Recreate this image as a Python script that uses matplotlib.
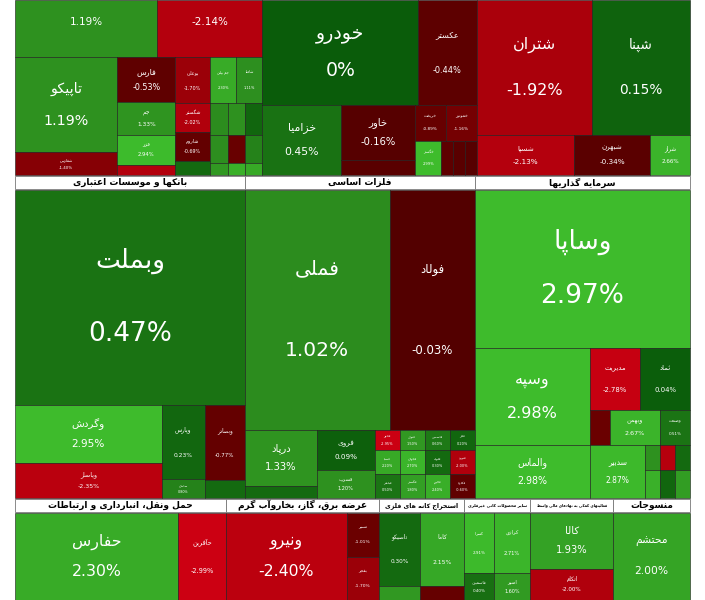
import matplotlib
matplotlib.use("Agg")
import matplotlib.pyplot as plt
from matplotlib.patches import Rectangle
import numpy as np

# ---------------- data ----------------
names = ["_t1", "_t2", "تاپیکو", "شفارس", "فارس", "جم", "فزر", "شغدیر", "بوعلی", "شگستر", "شاروم", "شپدیس",
         "جم پیلن", "شاملا", "شیراز", "شکلر", "شصدف", "شخارک", "شفن", "شبندر", "شنفت", "شسینا", "شلعاب",
         "خودرو", "عکستر", "خزامیا", "خاور", "مهن", "خریخت", "خموتور", "خگستر", "خکاوه", "خمحور", "خفنر",
         "شتران", "شپنا", "شسپا", "شبهرن", "شراز",
         "وبملت", "وگردش", "وپاسار", "وپارس", "سامان", "وبصادر", "وتجارت",
         "فملی", "فولاد", "درپاد", "ذوب", "فروی", "فسرب", "فخوز", "فنوال", "فاسمین", "فجر", "فسپا", "فجهان",
         "فلوله", "فنورد", "فباهنر", "فگستر", "فالوم", "فکاوه",
         "وساپا", "وسپه", "والماس", "مدیریت", "ثماد", "وخارزم", "وبهمن", "وصنعت", "سدبیر", "وسکاب", "وامید",
         "ونیکی", "وغدیر", "وبوعلی", "ورنا",
         "حفارس", "حآفرین", "ونیرو", "تسیر", "بفجر", "تاصیکو", "کچاد", "کاما", "کروی",
         "کسرا", "فاسمین ", "کرازی", "اسیر", "کالا", "اتکام", "محتشم"]
pcts = [1.19, -2.14, 1.19, -1.4, -0.53, 1.33, 2.94, -2.1, -1.7, -2.02, -0.69, 0.3,
        2.3, 1.11, 1.0, 1.2, 0.2, 1.1, -0.9, 0.8, 1.5, 2.5, 2.2,
        0.0, -0.44, 0.45, -0.16, -0.3, -0.89, -1.16, 2.99, -0.5, -0.3, -0.2,
        -1.92, 0.15, -2.13, -0.34, 2.66,
        0.47, 2.95, -2.35, 0.23, 0.8, -0.77, 0.3,
        1.02, -0.03, 1.33, 0.3, 0.09, 1.2, -2.95, 1.5, 0.6, 0.2, 2.2, 2.7,
        0.3, -2.0, 0.5, 1.8, 2.4, -0.6,
        2.97, 2.98, 2.98, -2.78, 0.04, -1.0, 2.67, 0.51, 2.87, 1.2, -2.2,
        0.3, 2.5, 0.2, 1.7,
        2.3, -2.99, -2.4, -1.01, -1.7, 0.3, 1.5, 2.15, -0.8,
        2.91, 0.4, 2.71, 1.6, 1.93, -2.0, 2.0]
weights = [81, 60, 97, 23, 26, 19, 17, 6, 16, 10, 10, 5,
           12, 12, 5.4, 5.4, 5.4, 5, 5, 5, 2, 2, 2,
           162, 61, 55, 41, 11, 11, 11, 9, 4, 4, 4,
           155, 132, 39, 30, 16,
           495, 85, 51, 32, 8, 30, 7,
           348, 204, 40, 9, 23, 16, 5, 5, 5, 5, 6, 6,
           6, 6, 6, 6, 6, 6,
           340, 112, 61, 31, 31, 7, 17.5, 10.5, 29, 3.75, 3.75,
           3.75, 4.2, 4.2, 4.2,
           142, 42, 105, 14, 14, 30, 6, 32, 6,
           18, 8, 22, 10, 46, 26, 67]

top_groups = [None, None, None]
mid_titles = ["بانکها و موسسات اعتباری", "فلزات اساسی", "سرمایه گذاریها"]
bot_titles = ["حمل ونقل، انبارداری و ارتباطات", "عرضه برق، گاز، بخاروآب گرم", "استخراج کانه های فلزی",
              "سایر محصولات کانی غیرفلزی", "فعالیتهای کمکی به نهادهای مالی واسط", "منسوجات"]

# ---------------- tree structure (names only) ----------------
top_tree = [
    ('v', [('h', ["_t1", "_t2"]),
           ('h', [('v', ["تاپیکو", "شفارس"]),
                  ('v', ["فارس", "جم", "فزر", "شغدیر"]),
                  ('v', ["بوعلی", "شگستر", "شاروم", "شپدیس"]),
                  ('v', [('h', ["جم پیلن", "شاملا"]), ('h', ["شیراز", "شکلر", "شصدف"]),
                         ('h', ["شخارک", "شفن", "شبندر"]), ('h', ["شنفت", "شسینا", "شلعاب"])])])]),
    ('v', [('h', ["خودرو", "عکستر"]),
           ('h', ["خزامیا", ('v', ["خاور", "مهن"]),
                  ('v', [('h', ["خریخت", "خموتور"]), ('h', ["خگستر", "خکاوه", "خمحور", "خفنر"])])])]),
    ('v', [('h', ["شتران", "شپنا"]), ('h', ["شسپا", "شبهرن", "شراز"])]),
]
mid_tree = [
    ('v', ["وبملت", ('h', [('v', ["وگردش", "وپاسار"]), ('v', ["وپارس", "سامان"]), ('v', ["وبصادر", "وتجارت"])])]),
    ('v', [('h', ["فملی", "فولاد"]),
           ('h', [('v', ["درپاد", "ذوب"]), ('v', ["فروی", "فسرب"]),
                  ('v', [('h', ["فخوز", "فنوال", "فاسمین", "فجر"]), ('h', ["فسپا", "فجهان", "فلوله", "فنورد"]),
                         ('h', ["فباهنر", "فگستر", "فالوم", "فکاوه"])])])]),
    ('v', ["وساپا", ('h', [('v', ["وسپه", "والماس"]),
                          ('v', [('h', ["مدیریت", "ثماد"]), ('h', ["وخارزم", "وبهمن", "وصنعت"]),
                                 ('h', ["سدبیر", ('v', [('h', ["وسکاب", "وامید", "ونیکی"]),
                                                       ('h', ["وغدیر", "وبوعلی", "ورنا"])])])])])]),
]
bot_tree = [
    ('h', ["حفارس", "حآفرین"]),
    ('h', ["ونیرو", ('v', ["تسیر", "بفجر"])]),
    ('h', [('v', ["تاصیکو", "کچاد"]), ('v', ["کاما", "کروی"])]),
    ('h', [('v', ["کسرا", "فاسمین "]), ('v', ["کرازی", "اسیر"])]),
    ('v', ["کالا", "اتکام"]),
    ('v', ["محتشم"]),
]

# ---------------- Persian shaping ----------------
F = {
 'ا': (0xFE8D, 0xFE8E, None, None), 'آ': (0xFE81, 0xFE82, None, None),
 'ب': (0xFE8F, 0xFE90, 0xFE91, 0xFE92), 'پ': (0xFB56, 0xFB57, 0xFB58, 0xFB59),
 'ت': (0xFE95, 0xFE96, 0xFE97, 0xFE98), 'ث': (0xFE99, 0xFE9A, 0xFE9B, 0xFE9C),
 'ج': (0xFE9D, 0xFE9E, 0xFE9F, 0xFEA0), 'چ': (0xFB7A, 0xFB7B, 0xFB7C, 0xFB7D),
 'ح': (0xFEA1, 0xFEA2, 0xFEA3, 0xFEA4), 'خ': (0xFEA5, 0xFEA6, 0xFEA7, 0xFEA8),
 'د': (0xFEA9, 0xFEAA, None, None), 'ذ': (0xFEAB, 0xFEAC, None, None),
 'ر': (0xFEAD, 0xFEAE, None, None), 'ز': (0xFEAF, 0xFEB0, None, None),
 'ژ': (0xFB8A, 0xFB8B, None, None),
 'س': (0xFEB1, 0xFEB2, 0xFEB3, 0xFEB4), 'ش': (0xFEB5, 0xFEB6, 0xFEB7, 0xFEB8),
 'ص': (0xFEB9, 0xFEBA, 0xFEBB, 0xFEBC), 'ض': (0xFEBD, 0xFEBE, 0xFEBF, 0xFEC0),
 'ط': (0xFEC1, 0xFEC2, 0xFEC3, 0xFEC4), 'ظ': (0xFEC5, 0xFEC6, 0xFEC7, 0xFEC8),
 'ع': (0xFEC9, 0xFECA, 0xFECB, 0xFECC), 'غ': (0xFECD, 0xFECE, 0xFECF, 0xFED0),
 'ف': (0xFED1, 0xFED2, 0xFED3, 0xFED4), 'ق': (0xFED5, 0xFED6, 0xFED7, 0xFED8),
 'ک': (0xFB8E, 0xFB8F, 0xFB90, 0xFB91), 'گ': (0xFB92, 0xFB93, 0xFB94, 0xFB95),
 'ل': (0xFEDD, 0xFEDE, 0xFEDF, 0xFEE0), 'م': (0xFEE1, 0xFEE2, 0xFEE3, 0xFEE4),
 'ن': (0xFEE5, 0xFEE6, 0xFEE7, 0xFEE8), 'و': (0xFEED, 0xFEEE, None, None),
 'ه': (0xFEE9, 0xFEEA, 0xFEEB, 0xFEEC), 'ی': (0xFBFC, 0xFBFD, 0xFBFE, 0xFBFF),
}

def shape(s):
    out = []
    n = len(s)
    for i, c in enumerate(s):
        if c not in F:
            out.append(c); continue
        prev = s[i-1] if i > 0 else None
        nxt = s[i+1] if i < n-1 else None
        jp = prev in F and F[prev][2] is not None
        jn = nxt in F and F[c][2] is not None
        iso, fin, ini, med = F[c]
        if jp and jn: g = med
        elif jp: g = fin
        elif jn: g = ini
        else: g = iso
        out.append(chr(g))
    return ''.join(out[::-1])

# ---------------- colour ----------------
gs = [0, 1, 3]
gc = [(0x0a, 0x5c, 0x0a), (0x2c, 0x8c, 0x1e), (0x3e, 0xbc, 0x2c)]
rs = [0, 1, 2, 3]
rc = [(0x52, 0x00, 0x00), (0x6a, 0x00, 0x00), (0xb0, 0x00, 0x0c), (0xcc, 0x00, 0x12)]

def color(p):
    if p >= 0:
        s, c, v = gs, gc, min(p, 3)
    else:
        s, c, v = rs, rc, min(-p, 3)
    return tuple(np.interp(v, s, [cc[k] for cc in c]) / 255 for k in range(3))

# ---------------- layout ----------------
W = dict(zip(names, weights))
P = dict(zip(names, pcts))

def wt(node):
    if isinstance(node, str):
        return W[node]
    return sum(wt(c) for c in node[1])

def layout(node, x0, y0, x1, y1, out):
    if isinstance(node, str):
        out.append((node, x0, y0, x1, y1)); return
    d, ch = node
    tot = sum(wt(c) for c in ch)
    pos = x0 if d == 'h' else y0
    for c in ch:
        f = wt(c) / tot
        if d == 'h':
            nx = pos + f * (x1 - x0); layout(c, pos, y0, nx, y1, out); pos = nx
        else:
            ny = pos + f * (y1 - y0); layout(c, x0, pos, x1, ny, out); pos = ny

X0, X1 = 15, 690
TOP_H, MID_H, BOT_H, HEAD = 175, 323, 102, 13

fig = plt.figure(figsize=(7.05, 6.0), dpi=100)
ax = fig.add_axes([0, 0, 1, 1])
ax.set_xlim(0, 705); ax.set_ylim(600, 0); ax.axis('off')

tiles = []
groups_boxes = []

def section(trees, titles, y0, h, hdr):
    tw = [wt(t) for t in trees]
    tot = sum(tw)
    x = X0
    for t, w, ti in zip(trees, tw, titles):
        nx = x + (X1 - X0) * w / tot
        groups_boxes.append((ti, x, y0, nx, y0 + h))
        layout(t, x, y0 + hdr, nx, y0 + h, tiles)
        x = nx

section(top_tree, top_groups, 0, TOP_H, 0)
section(mid_tree, mid_titles, TOP_H, MID_H, HEAD + 2)
section(bot_tree, bot_titles, TOP_H + MID_H, BOT_H, HEAD + 2)

for nm, x0, y0, x1, y1 in tiles:
    p = P[nm]
    ax.add_patch(Rectangle((x0, y0), x1 - x0, y1 - y0, facecolor=color(p), edgecolor='#1a1a1a', lw=0.4))
    w, h = x1 - x0, y1 - y0
    fs = min(w, h * 1.3) / 10
    fs = min(fs, 19)
    if fs < 2.3:
        continue
    cx, cy = (x0 + x1) / 2, (y0 + y1) / 2
    pct = f"{p:.2f}%" if p != 0 else "0%"
    if nm.startswith("_"):
        ax.text(cx, y0 + 22, pct, ha='center', va='center', color='white', fontsize=fs, clip_on=True)
        continue
    ax.text(cx, cy - h * 0.17, shape(nm), ha='center', va='center', color='white', fontsize=fs,
            family='DejaVu Sans', clip_on=True)
    ax.text(cx, cy + h * 0.17, pct, ha='center', va='center', color='white', fontsize=fs, clip_on=True)

for ti, x0, y0, x1, y1 in groups_boxes:
    if ti is None:
        continue
    ax.add_patch(Rectangle((x0, y0 + 1), x1 - x0, HEAD, facecolor='white', edgecolor='#777777', lw=0.6))
    fs = min(6.5, (x1 - x0 - 4) / (len(ti) * 0.62) * 0.72)
    ax.text((x0 + x1) / 2, y0 + 1 + HEAD / 2, shape(ti), ha='center', va='center', color='black',
            fontsize=fs, family='DejaVu Sans', fontweight='bold', clip_on=True)

fig.savefig("out.png", dpi=100)
